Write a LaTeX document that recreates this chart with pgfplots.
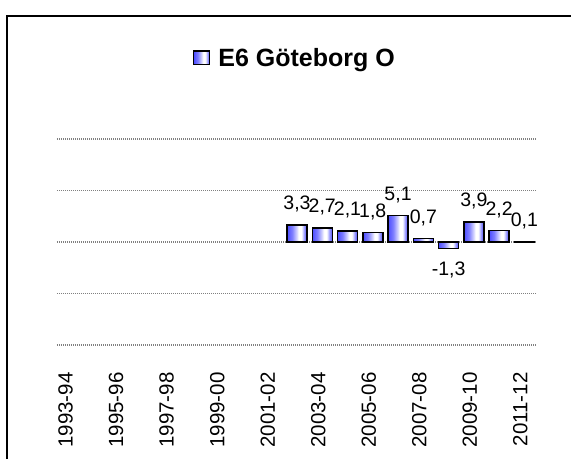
\documentclass[border=0pt]{standalone}
\usepackage{pgfplots}
\pgfplotsset{compat=1.18}
\usepackage{pgfplotstable}
\usepackage{fontspec}
\setmainfont{Liberation Sans}
\pgfdeclarehorizontalshading{barshade}{100bp}{rgb(0bp)=(0.30,0.30,1); rgb(25bp)=(0.30,0.30,1); rgb(38bp)=(0.50,0.50,1); rgb(50bp)=(0.85,0.85,1); rgb(54bp)=(1,1,1); rgb(61bp)=(1,1,1); rgb(68bp)=(0.6,0.6,1); rgb(75bp)=(0.30,0.30,1); rgb(100bp)=(0.30,0.30,1)}
\pgfplotstableread{
x y
9 3.3
10 2.7
11 2.1
12 1.8
13 5.1
14 0.7
15 -1.3
16 3.9
17 2.2
18 0.1
}\datatable
\begin{document}
\begin{tikzpicture}[x=1pt,y=1pt]
\useasboundingbox (0,0) rectangle (571,459);
\draw[line width=1.6pt] (7,0) -- (7,443) -- (571,443);
\begin{axis}[
  at={(57pt,114pt)}, anchor=south west,
  width=480pt, height=206pt, scale only axis,
  xmin=-0.5, xmax=18.5, ymin=-20, ymax=20,
  axis line style={draw=none},
  tick style={draw=none},
  ytick={-20,-10,10,20}, yticklabels={},
  ymajorgrids,
  major grid style={dash pattern=on 1pt off 1pt, black!50, line width=1.1pt},
  extra y ticks={0}, extra y tick labels={},
  extra y tick style={grid style={solid, black, line width=3.8pt}},
  xtick={0,2,...,18},
  xticklabels={1993-94,1995-96,1997-98,1999-00,2001-02,2003-04,2005-06,2007-08,2009-10,2011-12},
  xticklabel style={rotate=90, anchor=east, xshift=-24pt, yshift=4pt, font=\fontsize{20.5}{20.5}\selectfont},
  /pgf/number format/assume math mode=true,
  /pgf/number format/.cd, fixed, fixed zerofill, precision=1, use comma, /pgfplots/.cd,
  legend style={draw=none, fill=none, at={(0.5,1)}, anchor=center, xshift=-2pt, yshift=81pt, font=\bfseries\fontsize{25}{25}\selectfont,
    /tikz/every odd column/.append style={column sep=6pt}},
  legend image code/.code={\draw[line width=1.3pt, shading=barshade] (0pt,-6.5pt) rectangle (16pt,7pt);},
]
\addplot[ybar, bar width=20pt, draw=none, fill=none] table[x=x,y=y] {\datatable};
\addlegendentry{E6 Göteborg O}
\pgfplotsinvokeforeach{9,...,18}{
\addplot[ybar, bar width=20pt, draw=black, line width=1.5pt, shading=barshade, forget plot,
  restrict x to domain=#1:#1,
  nodes near coords,
  every node near coord/.append style={font=\fontsize{19.5}{19.5}\selectfont, inner xsep=0pt, inner ysep=12pt}]
  table[x=x,y=y] {\datatable};
}
\end{axis}
\end{tikzpicture}
\end{document}
